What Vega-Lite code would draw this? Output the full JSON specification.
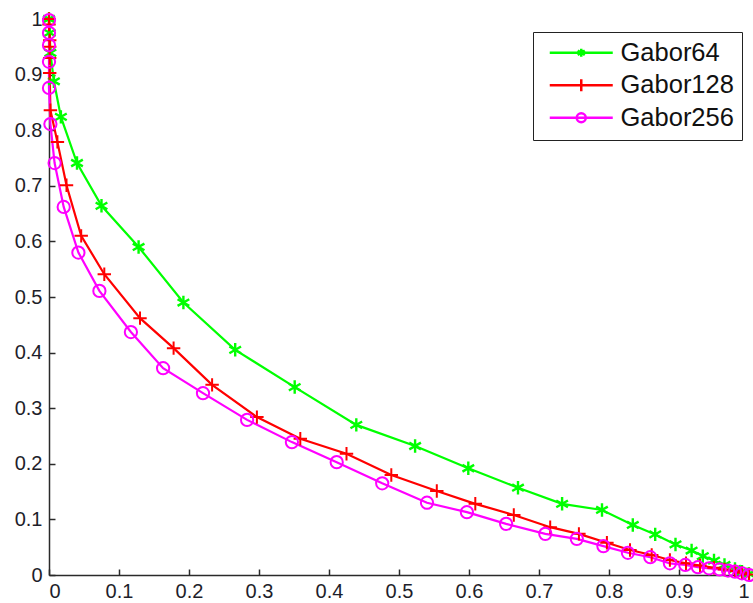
{
  "$schema": "https://vega.github.io/schema/vega-lite/v6.json",
  "autosize": {"type": "none"},
  "padding": {"left": 49, "top": 19, "right": 4, "bottom": 28},
  "width": 700,
  "height": 556,
  "background": "white",
  "config": {"view": {"stroke": null}, "font": "Liberation Sans"},
  "data": {"values": [
    {"s":"Gabor64","x":0,"y":1},{"s":"Gabor64","x":0.001,"y":0.975},{"s":"Gabor64","x":0.002,"y":0.939},{"s":"Gabor64","x":0.007,"y":0.888},{"s":"Gabor64","x":0.017,"y":0.824},{"s":"Gabor64","x":0.04,"y":0.741},{"s":"Gabor64","x":0.075,"y":0.664},{"s":"Gabor64","x":0.128,"y":0.59},{"s":"Gabor64","x":0.192,"y":0.49},{"s":"Gabor64","x":0.266,"y":0.405},{"s":"Gabor64","x":0.351,"y":0.338},{"s":"Gabor64","x":0.439,"y":0.27},{"s":"Gabor64","x":0.523,"y":0.232},{"s":"Gabor64","x":0.599,"y":0.192},{"s":"Gabor64","x":0.67,"y":0.157},{"s":"Gabor64","x":0.733,"y":0.128},{"s":"Gabor64","x":0.79,"y":0.117},{"s":"Gabor64","x":0.834,"y":0.09},{"s":"Gabor64","x":0.866,"y":0.073},{"s":"Gabor64","x":0.895,"y":0.055},{"s":"Gabor64","x":0.918,"y":0.044},{"s":"Gabor64","x":0.934,"y":0.034},{"s":"Gabor64","x":0.95,"y":0.026},{"s":"Gabor64","x":0.965,"y":0.018},{"s":"Gabor64","x":0.98,"y":0.011},{"s":"Gabor64","x":0.99,"y":0.006},{"s":"Gabor64","x":1,"y":0.002},
    {"s":"Gabor128","x":0,"y":1},{"s":"Gabor128","x":0,"y":0.99},{"s":"Gabor128","x":0.001,"y":0.962},{"s":"Gabor128","x":0.001,"y":0.95},{"s":"Gabor128","x":0.001,"y":0.93},{"s":"Gabor128","x":0.001,"y":0.903},{"s":"Gabor128","x":0.002,"y":0.836},{"s":"Gabor128","x":0.012,"y":0.779},{"s":"Gabor128","x":0.025,"y":0.701},{"s":"Gabor128","x":0.046,"y":0.61},{"s":"Gabor128","x":0.079,"y":0.541},{"s":"Gabor128","x":0.13,"y":0.462},{"s":"Gabor128","x":0.178,"y":0.408},{"s":"Gabor128","x":0.233,"y":0.342},{"s":"Gabor128","x":0.297,"y":0.284},{"s":"Gabor128","x":0.359,"y":0.245},{"s":"Gabor128","x":0.425,"y":0.218},{"s":"Gabor128","x":0.489,"y":0.18},{"s":"Gabor128","x":0.554,"y":0.151},{"s":"Gabor128","x":0.609,"y":0.128},{"s":"Gabor128","x":0.664,"y":0.108},{"s":"Gabor128","x":0.716,"y":0.086},{"s":"Gabor128","x":0.757,"y":0.074},{"s":"Gabor128","x":0.797,"y":0.058},{"s":"Gabor128","x":0.83,"y":0.045},{"s":"Gabor128","x":0.861,"y":0.036},{"s":"Gabor128","x":0.887,"y":0.027},{"s":"Gabor128","x":0.91,"y":0.021},{"s":"Gabor128","x":0.93,"y":0.017},{"s":"Gabor128","x":0.95,"y":0.013},{"s":"Gabor128","x":0.965,"y":0.01},{"s":"Gabor128","x":0.98,"y":0.007},{"s":"Gabor128","x":0.99,"y":0.004},{"s":"Gabor128","x":1,"y":0.001},
    {"s":"Gabor256","x":0,"y":0.998},{"s":"Gabor256","x":0,"y":0.975},{"s":"Gabor256","x":0,"y":0.953},{"s":"Gabor256","x":0,"y":0.923},{"s":"Gabor256","x":0,"y":0.876},{"s":"Gabor256","x":0.002,"y":0.811},{"s":"Gabor256","x":0.008,"y":0.741},{"s":"Gabor256","x":0.021,"y":0.662},{"s":"Gabor256","x":0.042,"y":0.58},{"s":"Gabor256","x":0.072,"y":0.511},{"s":"Gabor256","x":0.117,"y":0.437},{"s":"Gabor256","x":0.163,"y":0.372},{"s":"Gabor256","x":0.22,"y":0.327},{"s":"Gabor256","x":0.283,"y":0.279},{"s":"Gabor256","x":0.347,"y":0.239},{"s":"Gabor256","x":0.411,"y":0.203},{"s":"Gabor256","x":0.476,"y":0.165},{"s":"Gabor256","x":0.54,"y":0.13},{"s":"Gabor256","x":0.597,"y":0.113},{"s":"Gabor256","x":0.653,"y":0.092},{"s":"Gabor256","x":0.709,"y":0.074},{"s":"Gabor256","x":0.754,"y":0.065},{"s":"Gabor256","x":0.792,"y":0.052},{"s":"Gabor256","x":0.827,"y":0.04},{"s":"Gabor256","x":0.859,"y":0.032},{"s":"Gabor256","x":0.887,"y":0.021},{"s":"Gabor256","x":0.909,"y":0.018},{"s":"Gabor256","x":0.927,"y":0.014},{"s":"Gabor256","x":0.943,"y":0.012},{"s":"Gabor256","x":0.958,"y":0.01},{"s":"Gabor256","x":0.97,"y":0.008},{"s":"Gabor256","x":0.98,"y":0.006},{"s":"Gabor256","x":0.99,"y":0.003},{"s":"Gabor256","x":1,"y":0}
  ]},
  "encoding": {
    "x": {"field": "x", "type": "quantitative", "scale": {"domain": [0, 1], "nice": false},
      "axis": {"title": null, "values": [0,0.1,0.2,0.3,0.4,0.5,0.6,0.7,0.8,0.9,1], "format": "~g", "grid": false,
        "domainColor": "#2a2a2a", "domainWidth": 1.5, "tickColor": "#2a2a2a", "tickWidth": 1.5, "tickSize": -6,
        "labelFontSize": 20, "labelColor": "#1e1e2a", "labelPadding": 12, "labelFont": "Liberation Sans"}},
    "y": {"field": "y", "type": "quantitative", "scale": {"domain": [0, 1], "nice": false},
      "axis": {"title": null, "values": [0,0.1,0.2,0.3,0.4,0.5,0.6,0.7,0.8,0.9,1], "format": "~g", "grid": false,
        "domainColor": "#2a2a2a", "domainWidth": 1.5, "tickColor": "#2a2a2a", "tickWidth": 1.5, "tickSize": -6,
        "labelFontSize": 20, "labelColor": "#1e1e2a", "labelPadding": 13, "labelFont": "Liberation Sans"}},
    "order": {"field": "y", "sort": "descending"}
  },
  "layer": [
    {
      "mark": {"type": "line", "strokeWidth": 2.2},
      "encoding": {
        "color": {"field": "s", "type": "nominal",
          "scale": {"domain": ["Gabor64", "Gabor128", "Gabor256"], "range": ["#00ff00", "#ff0000", "#ff00ff"]},
          "legend": {"title": null, "orient": "none", "legendX": 484, "legendY": 13,
            "strokeColor": "#222222", "fillColor": "white", "padding": 8,
            "labelFontSize": 25.5, "labelColor": "#111111", "labelFont": "Liberation Sans", "labelOffset": 54,
            "symbolSize": 400, "symbolStrokeWidth": 2.5, "rowPadding": 5.5,
            "encode": {"symbols": {"update": {
              "shape": {"signal": "datum.value === 'Gabor64' ? 'M-0.4,0H5.9M2.75,-0.4V0.4M2.4,-0.22L3.1,0.22M2.4,0.22L3.1,-0.22' : datum.value === 'Gabor128' ? 'M-0.4,0H5.9M2.75,-0.6V0.6' : 'M-0.4,0H5.9M3.2,0A0.45,0.45,0,1,1,2.3,0A0.45,0.45,0,1,1,3.2,0'"},
              "fill": {"value": "transparent"},
              "strokeWidth": {"value": 2.5}
            }}}
          }}
      }
    },
    {
      "transform": [{"filter": "datum.s === 'Gabor64'"}],
      "mark": {"type": "point", "filled": false, "strokeWidth": 2.4, "opacity": 1, "color": "#00ff00",
        "shape": "M0,-1V1M-0.87,-0.5L0.87,0.5M-0.87,0.5L0.87,-0.5", "size": 180}
    },
    {
      "transform": [{"filter": "datum.s === 'Gabor128'"}],
      "mark": {"type": "point", "filled": false, "strokeWidth": 2, "opacity": 1, "color": "#ff0000",
        "shape": "M-1,0H1M0,-1V1", "size": 180}
    },
    {
      "transform": [{"filter": "datum.s === 'Gabor256'"}],
      "mark": {"type": "point", "filled": false, "strokeWidth": 2, "opacity": 1, "color": "#ff00ff",
        "shape": "circle", "size": 150}
    }
  ]
}
